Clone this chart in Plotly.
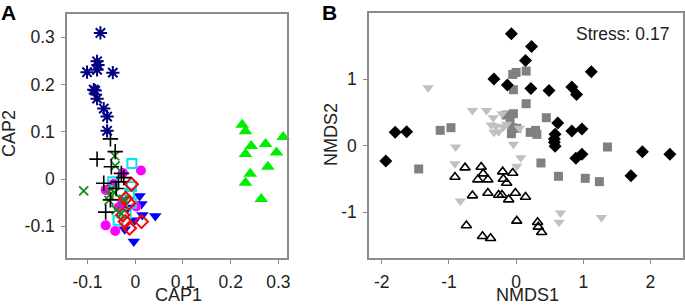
import plotly.graph_objects as go

# ---------- Panel A (CAP) ----------
star_x = [-0.073, -0.080, -0.078, -0.080, -0.101, -0.047, -0.087, -0.084, -0.080, -0.066, -0.059, -0.059]
star_y = [0.309, 0.249, 0.241, 0.231, 0.226, 0.225, 0.189, 0.187, 0.170, 0.149, 0.132, 0.102]

gtri_x = [0.224, 0.231, 0.243, 0.231, 0.273, 0.310, 0.296, 0.278, 0.241, 0.231, 0.264]
gtri_y = [0.115, 0.101, 0.070, 0.053, 0.074, 0.089, 0.056, 0.026, 0.011, -0.008, -0.042]

plus_x = [-0.052, -0.042, -0.080, -0.050, -0.029, -0.024, -0.066, -0.040, -0.052, -0.062, -0.035]
plus_y = [0.085, 0.058, 0.042, 0.026, 0.012, 0.003, -0.009, -0.020, -0.044, -0.070, -0.006]

gx_x = [-0.108, -0.043, -0.042, -0.050, -0.054, -0.043, -0.024, -0.040, -0.029, -0.055]
gx_y = [-0.025, 0.049, 0.028, -0.021, -0.034, -0.029, -0.043, -0.065, -0.073, -0.045]

mag_x = [0.012, -0.026, -0.062, -0.045, -0.027, 0.002, -0.062, -0.042, -0.035]
mag_y = [0.018, 0.013, -0.023, -0.010, -0.048, -0.058, -0.098, -0.110, -0.060]

cyan_x = [-0.007, -0.047, -0.008, -0.012, -0.008, -0.036, -0.019]
cyan_y = [0.033, -0.006, -0.016, -0.030, -0.051, -0.087, -0.073]

red_x = [-0.008, -0.020, -0.013, -0.021, 0.013, -0.012, -0.026]
red_y = [-0.011, -0.041, -0.051, -0.090, -0.090, -0.104, -0.076]

blue_x = [0.009, 0.013, 0.015, 0.042, -0.001, -0.022, -0.003, -0.015]
blue_y = [-0.036, -0.053, -0.076, -0.078, -0.087, -0.106, -0.132, -0.060]

cap_ticks = [-0.1, 0, 0.1, 0.2, 0.3]
cap_ticktext = ["-0.1", "0", "0.1", "0.2", "0.3"]

# ---------- Panel B (NMDS) ----------
dia_x = [-0.07, 0.23, 0.14, 1.12, -0.33, -0.13, 0.22, 0.49, 0.83, 0.90, 0.62, 0.58, 0.57, 0.57, 0.58,
         0.83, 0.98, 0.89, 0.98, -1.80, -1.63, -1.94, 1.88, 2.29, 1.71]
dia_y = [1.68, 1.49, 1.28, 1.11, 1.00, 0.91, 0.86, 0.83, 0.88, 0.77, 0.34, 0.17, 0.10, 0.05, -0.01,
         0.22, 0.25, -0.19, -0.13, 0.20, 0.21, -0.23, -0.09, -0.13, -0.45]

sq_x = [-0.05, 0.00, 0.15, -0.04, 0.15, 0.45, -0.15, -0.04, -0.09, -0.06, 0.01, -0.07, 0.21, 0.29, 0.31,
        -1.13, -0.97, -1.45, 0.37, 0.63, 1.03, 1.24, 1.36]
sq_y = [1.07, 1.10, 1.12, 0.84, 0.63, 0.42, 0.46, 0.48, 0.38, 0.27, 0.26, 0.18, 0.20, 0.23, 0.17,
        0.23, 0.27, -0.35, -0.26, -0.46, -0.49, -0.54, -0.02]

ltri_x = [-1.31, -0.65, -0.44, -0.34, -0.21, -0.37, -0.30, -0.33, -0.26, -0.19, -0.14, 0.05, -0.90, -0.04,
          0.07, 0.01, -0.91, -0.83, 0.66, 0.64, 1.27]
ltri_y = [0.87, 0.53, 0.53, 0.42, 0.48, 0.31, 0.29, 0.20, 0.21, 0.28, 0.32, 0.26, -0.02, 0.02,
          -0.18, -0.31, -0.27, -0.83, -1.01, -1.15, -1.08]

otri_x = [-0.91, -0.76, -0.52, -0.49, -0.57, -0.42, -0.20, -0.05, -0.19, -0.14, -0.65, -0.42, -0.26, -0.21,
          -0.11, -0.01, 0.14, -0.74, 0.01, 0.32, 0.33, 0.38, -0.50, -0.38]
otri_y = [-0.47, -0.33, -0.32, -0.42, -0.51, -0.51, -0.39, -0.41, -0.50, -0.56, -0.75, -0.71, -0.74, -0.74,
          -0.81, -0.71, -0.77, -1.20, -1.13, -1.15, -1.22, -1.30, -1.36, -1.39]

nm_xticks = [-2, -1, 0, 1, 2]
nm_xticktext = ["-2", "-1", "0", "1", "2"]
nm_yticks = [-1, 0, 1]
nm_yticktext = ["-1", "0", "1"]

fig = go.Figure()

def add(x, y, symbol, color, size, xa, ya, lw=1.5, lc=None):
    fig.add_trace(go.Scatter(
        x=x, y=y, mode="markers", xaxis=xa, yaxis=ya, showlegend=False, cliponaxis=False,
        marker=dict(symbol=symbol, size=size, color=color,
                    line=dict(width=lw, color=lc if lc else color))))

# Panel A traces
add(blue_x, blue_y, "triangle-down", "#0000ff", 11, "x", "y", 0)
add(mag_x, mag_y, "circle", "#ff00ff", 10, "x", "y", 0)
add(cyan_x, cyan_y, "square-open", "#00e5ee", 9, "x", "y", 2)
add(red_x, red_y, "diamond-open", "#ff0000", 10, "x", "y", 2)
add(gx_x, gx_y, "x-thin-open", "#1a8a1a", 9, "x", "y", 1.8)
add(plus_x, plus_y, "cross-thin-open", "#000000", 11, "x", "y", 1.6)
add(star_x, star_y, "asterisk-open", "#000080", 11, "x", "y", 2)
add(gtri_x, gtri_y, "triangle-up", "#00ee00", 12, "x", "y", 0)

# Panel B traces
add(sq_x, sq_y, "square", "#808080", 9, "x2", "y2", 0)
add(ltri_x, ltri_y, "triangle-down", "#c0c0c0", 10, "x2", "y2", 0)
add(otri_x, otri_y, "triangle-up-open", "#000000", 9, "x2", "y2", 1.6)
add(dia_x, dia_y, "diamond", "#000000", 10, "x2", "y2", 0)

W, H = 685, 306
def px(X):
    return X / W
def py(Y):
    return 1 - Y / H

FAM = "Liberation Sans, Arial, sans-serif"
font = dict(family=FAM, size=17.5, color="#222222")
tfont = dict(family=FAM, size=18, color="#222222")
axcommon = dict(showgrid=False, zeroline=False, showline=True, mirror=True,
                linecolor="#8c8c8c", linewidth=1.5, ticks="outside", ticklen=4,
                tickcolor="#8c8c8c", tickwidth=1.2, tickfont=font, ticklabelstandoff=3,
                automargin=False)

fig.update_layout(
    width=W, height=H, margin=dict(l=0, r=0, t=0, b=0),
    paper_bgcolor="white", plot_bgcolor="white", font=font,
    xaxis=dict(domain=[px(67), px(287)], range=[-0.143, 0.318], tickvals=cap_ticks,
               ticktext=cap_ticktext, anchor="y", **axcommon),
    yaxis=dict(domain=[py(258), py(14)], range=[-0.167, 0.349], tickvals=cap_ticks,
               ticktext=cap_ticktext, anchor="x", **axcommon),
    xaxis2=dict(domain=[px(369), px(683)], range=[-2.19, 2.485], tickvals=nm_xticks,
                ticktext=nm_xticktext, anchor="y2", **axcommon),
    yaxis2=dict(domain=[py(258), py(13.3)], range=[-1.687, 1.988], tickvals=nm_yticks,
                ticktext=nm_yticktext, anchor="x2", **axcommon),
    annotations=[
        dict(text="<b>A</b>", x=px(0), y=py(0), xref="paper", yref="paper", xanchor="left", yanchor="top",
             showarrow=False, borderpad=0, font=dict(family=FAM, size=21, color="#000")),
        dict(text="<b>B</b>", x=px(321), y=py(0), xref="paper", yref="paper", xanchor="left", yanchor="top",
             showarrow=False, borderpad=0, font=dict(family=FAM, size=21, color="#000")),
        dict(text="Stress: 0.17", x=px(671), y=py(22), xref="paper", yref="paper",
             xanchor="right", yanchor="top", showarrow=False, font=font),
        dict(text="CAP1", x=px(178), y=py(306), xref="paper", yref="paper",
             xanchor="center", yanchor="bottom", showarrow=False, borderpad=0, font=tfont),
        dict(text="NMDS1", x=px(527), y=py(306), xref="paper", yref="paper",
             xanchor="center", yanchor="bottom", showarrow=False, borderpad=0, font=tfont),
        dict(text="CAP2", x=px(9), y=py(134), xref="paper", yref="paper", textangle=-90,
             xanchor="center", yanchor="middle", showarrow=False, borderpad=0, font=tfont),
        dict(text="NMDS2", x=px(331), y=py(135), xref="paper", yref="paper", textangle=-90,
             xanchor="center", yanchor="middle", showarrow=False, borderpad=0, font=tfont),
    ],
)

fig.write_html("out.html", config={"displayModeBar": False},
               post_script="document.body.style.margin='0px';")
